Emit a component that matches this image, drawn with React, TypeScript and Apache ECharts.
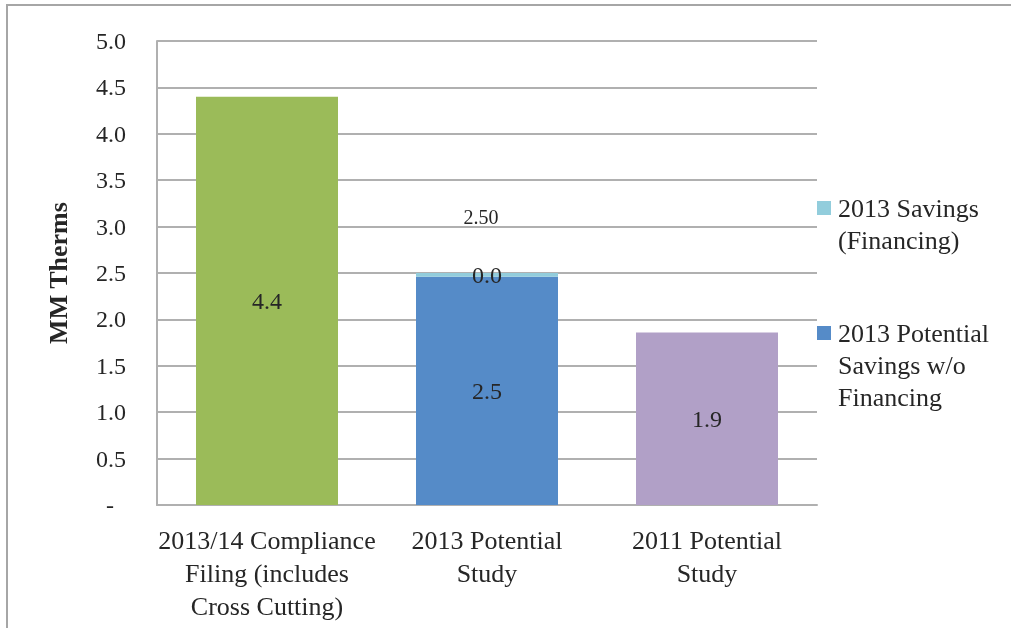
import React, { useEffect, useRef } from "react";
import * as echarts from "echarts";

const categories = [
  "2013/14 Compliance\nFiling (includes\nCross Cutting)",
  "2013 Potential\nStudy",
  "2011 Potential\nStudy",
];
const complianceValues = [4.4, "-", "-"];
const potentialWoFinancing = ["-", 2.46, "-"];
const savingsFinancing = ["-", 0.04, "-"];
const study2011Values = ["-", "-", 1.86];
const totals2013 = [null, 2.5, null];
const yTicks = [0, 0.5, 1, 1.5, 2, 2.5, 3, 3.5, 4, 4.5, 5];

const legendNames = ["2013 Savings\n(Financing)", "2013 Potential\nSavings w/o\nFinancing"];

const FONT = "'Liberation Serif', 'DejaVu Serif', serif";
const TXT = "#262626";
const GRID = "#b0b0b0";
const C_GREEN = "#9bbb59";
const C_BLUE = "#558bc8";
const C_LIGHT = "#92cddc";
const C_PURPLE = "#b1a0c7";

export default function App() {
  const ref = useRef<HTMLDivElement>(null);
  useEffect(() => {
    if (!ref.current) return;
    const chart = echarts.init(ref.current, null, { renderer: "svg" });
    const labelStyle = {
      show: true,
      position: "inside",
      fontFamily: FONT,
      fontSize: 24,
      color: TXT,
      formatter: (p: any) => Number(p.value).toFixed(1),
    };
    chart.setOption({
      animation: false,
      grid: { left: 157, top: 41, right: 194, bottom: 123, containLabel: false },
      xAxis: {
        type: "category",
        data: categories,
        axisTick: { show: false },
        axisLine: { lineStyle: { color: GRID, width: 2 } },
        axisLabel: {
          fontFamily: FONT,
          fontSize: 26,
          color: TXT,
          lineHeight: 33,
          margin: 19,
          interval: 0,
        },
      },
      yAxis: {
        type: "value",
        min: yTicks[0],
        max: yTicks[yTicks.length - 1],
        interval: 0.5,
        name: "MM Therms",
        nameLocation: "middle",
        nameGap: 86,
        nameTextStyle: { fontFamily: FONT, fontSize: 26, fontWeight: "bold", color: TXT, padding: [0, 0, 0, 0] },
        axisLine: { show: true, lineStyle: { color: GRID, width: 2 } },
        axisTick: { show: false },
        splitLine: { lineStyle: { color: GRID, width: 2 } },
        axisLabel: {
          fontFamily: FONT,
          fontSize: 24,
          color: TXT,
          margin: 31,
          formatter: (v: number) => (v === 0 ? "-\u00a0\u00a0" : v.toFixed(1)),
        },
      },
      graphic: [
        {
          type: "rect",
          shape: { x: 7, y: 5, width: 1100, height: 700 },
          style: { fill: "none", stroke: "#a6a6a6", lineWidth: 2 },
          silent: true,
        },
        {
          type: "rect",
          shape: { x: 817, y: 201, width: 14, height: 14 },
          style: { fill: C_LIGHT },
        },
        {
          type: "text",
          x: 838,
          y: 192,
          style: { text: legendNames[0], font: `26px ${FONT}`, fill: TXT, lineHeight: 32 },
        },
        {
          type: "rect",
          shape: { x: 817, y: 326, width: 14, height: 14 },
          style: { fill: C_BLUE },
        },
        {
          type: "text",
          x: 838,
          y: 317,
          style: { text: legendNames[1], font: `26px ${FONT}`, fill: TXT, lineHeight: 32 },
        },
      ],
      series: [
        {
          name: "2013/14 Compliance Filing",
          type: "bar",
          stack: "a",
          barWidth: 142,
          data: complianceValues,
          itemStyle: { color: C_GREEN },
          label: labelStyle,
        },
        {
          name: "2013 Potential Savings w/o Financing",
          type: "bar",
          stack: "a",
          barWidth: 142,
          data: potentialWoFinancing,
          itemStyle: { color: C_BLUE },
          label: labelStyle,
        },
        {
          name: "2013 Savings (Financing)",
          type: "bar",
          stack: "a",
          barWidth: 142,
          data: savingsFinancing,
          itemStyle: { color: C_LIGHT },
          label: labelStyle,
        },
        {
          name: "2011 Potential Study",
          type: "bar",
          stack: "a",
          barWidth: 142,
          data: study2011Values,
          itemStyle: { color: C_PURPLE },
          label: labelStyle,
        },
        {
          name: "Total",
          type: "scatter",
          symbolSize: 1,
          data: totals2013,
          itemStyle: { color: "rgba(0,0,0,0)" },
          label: {
            show: true,
            position: "inside",
            offset: [-6, -56],
            fontFamily: FONT,
            fontSize: 20,
            color: TXT,
            opacity: 1,
            formatter: (p: any) => Number(p.value).toFixed(2),
          },
        },
      ],
    });
    return () => chart.dispose();
  }, []);
  return <div ref={ref} style={{ position: "fixed", left: 0, top: 0, width: 1011, height: 628 }} />;
}
